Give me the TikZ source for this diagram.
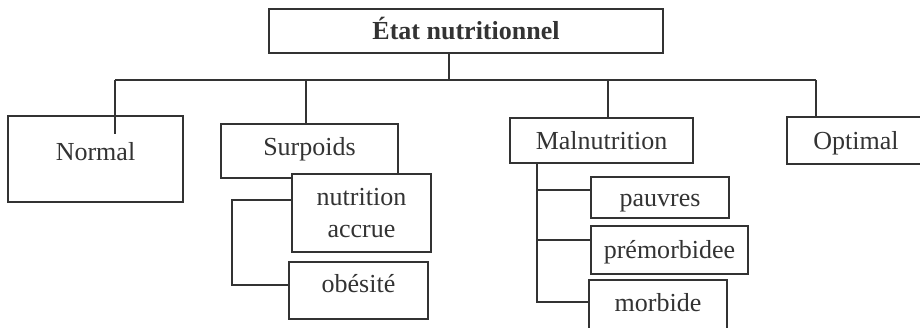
\documentclass[tikz,border=0pt]{standalone}
\usepackage{fontspec}
\setmainfont{Liberation Serif}
\usepackage{tikz}
\usetikzlibrary{positioning, calc}
\colorlet{ink}{black!80}

\begin{document}
\begin{tikzpicture}[
    every node/.style={font=\fontsize{14.8}{17.8}\selectfont, text=ink},
    box/.style={draw=ink, fill=white, line width=1.1pt, inner sep=2pt},
    lift/.style={text height=10pt, text depth=#1},
    lift/.default=0.3pt,
    link/.style={draw=ink, line width=0.7pt}]
  \useasboundingbox (0,0) rectangle (18.4,6.56);
  \clip (0,0) rectangle (18.4,6.56);

  \node[box, lift, minimum width=7.88cm, minimum height=0.88cm, font=\fontsize{14.8}{17.8}\selectfont\bfseries] (etat) at (9.32,5.94) {État nutritionnel};

  \node[box, lift=8.5pt, minimum width=3.5cm, minimum height=1.72cm] (normal) at (1.91,3.38) {Normal};
  \node[box, lift=4.5pt, minimum width=3.54cm, minimum height=1.08cm] (surpoids) at (6.19,3.54) {Surpoids};
  \node[box, lift, minimum width=3.66cm, minimum height=0.9cm] (malnut) at (12.03,3.75) {Malnutrition};
  \node[box, lift, minimum width=2.76cm, minimum height=0.94cm] (optimal) at (17.12,3.75) {Optimal};

  \node[box, align=center, minimum width=2.78cm, minimum height=1.56cm] (nacc) at (7.23,2.30) {nutrition\\accrue};
  \node[box, lift=7.7pt, minimum width=2.78cm, minimum height=1.14cm] (obesite) at (7.17,0.75) {obésité};

  \node[box, lift, minimum width=2.76cm, minimum height=0.82cm] (pauvres) at (13.20,2.61) {pauvres};
  \node[box, lift, minimum width=3.14cm, minimum height=0.96cm] (premorb) at (13.39,1.56) {prémorbidee};
  \node[box, lift=8.2pt, minimum width=2.76cm, minimum height=1.2cm] (morbide) at (13.16,0.36) {morbide};

  \coordinate (busL) at (2.30,4.96);
  \coordinate (busR) at (16.32,4.96);
  \draw[link] (busL) -- (busR);
  \draw[link] ([xshift=-3.4mm]etat.south) -- ([xshift=-3.4mm]etat.south |- busL);
  \draw[link] (busL) -- ([yshift=-3.8mm]busL |- normal.north);
  \draw[link] ([xshift=-0.7mm]surpoids.north) -- ([xshift=-0.7mm]surpoids.north |- busL);
  \draw[link] ([xshift=1.3mm]malnut.north) -- ([xshift=1.3mm]malnut.north |- busL);
  \draw[link] (busR) -- (busR |- optimal.north);

  \draw[link] ([yshift=2.6mm]nacc.west) -- ++(-1.18,0) |- ([yshift=1.1mm]obesite.west);

  \coordinate (trunk) at ([xshift=-12.9mm]malnut.south);
  \draw[link] (trunk) |- ([yshift=1.6mm]morbide.west);
  \draw[link] ([yshift=1.5mm]pauvres.west) -- ([yshift=1.5mm]pauvres.west -| trunk);
  \draw[link] ([yshift=2mm]premorb.west) -- ([yshift=2mm]premorb.west -| trunk);
\end{tikzpicture}
\end{document}
